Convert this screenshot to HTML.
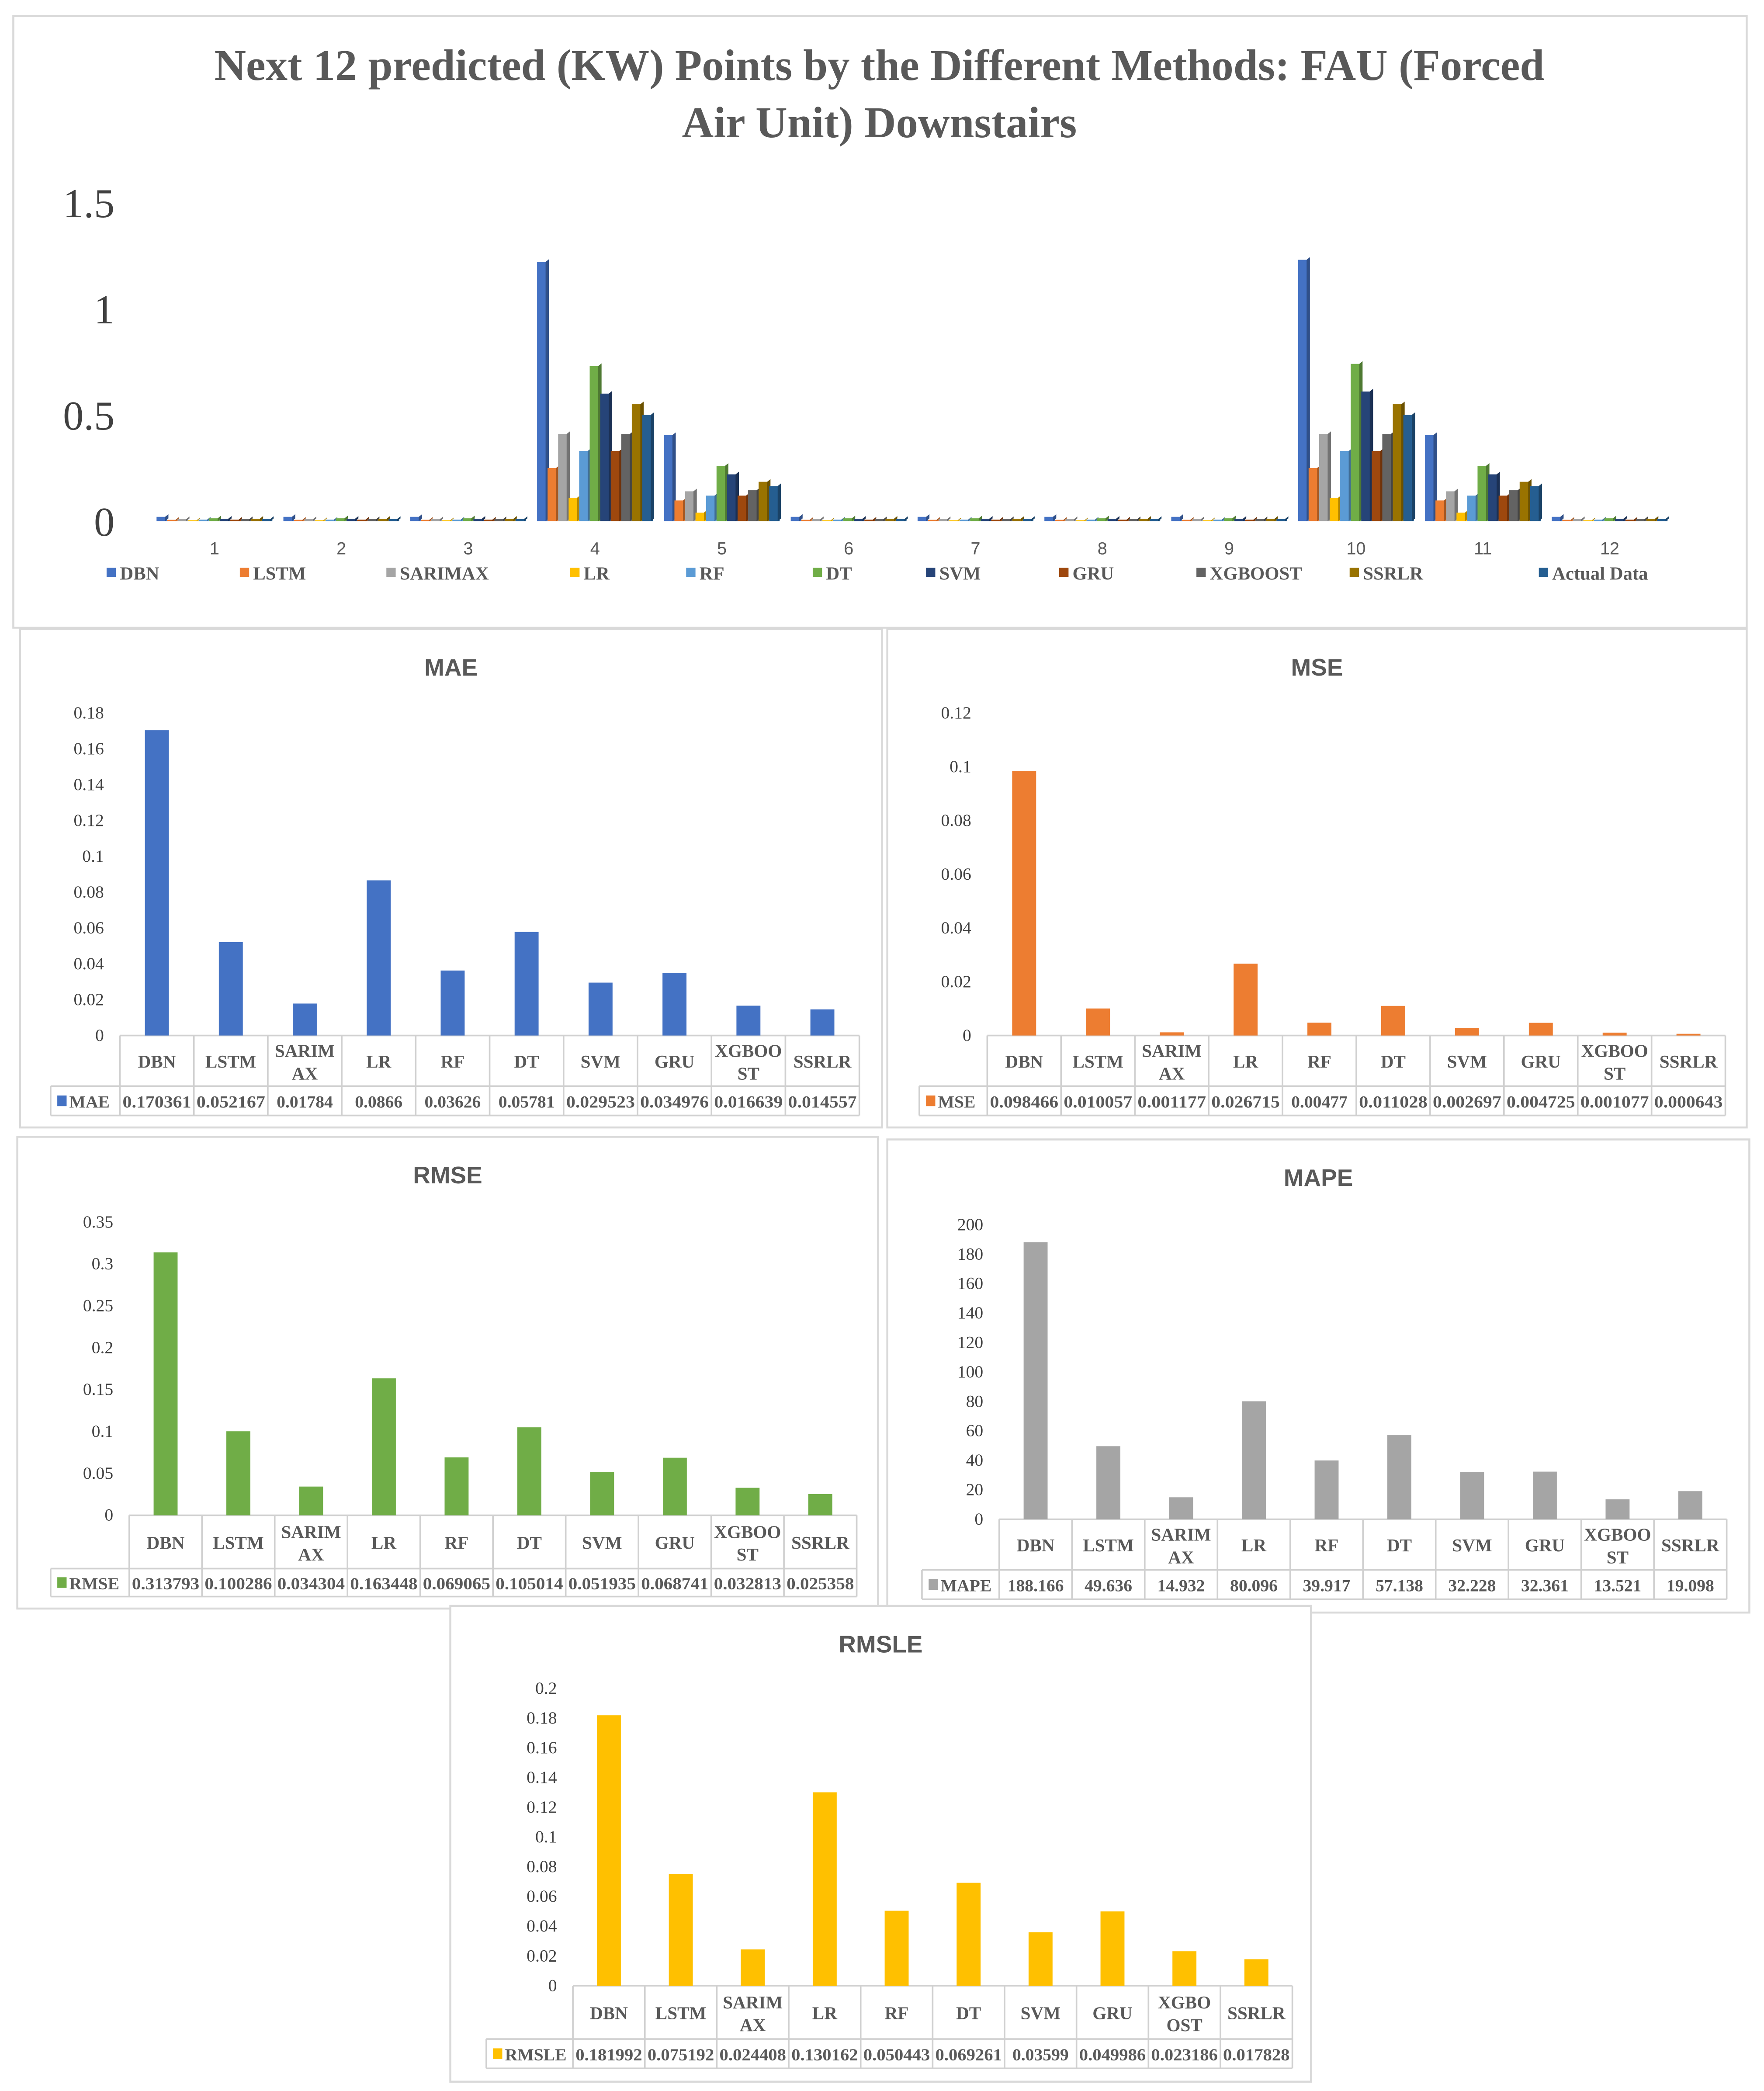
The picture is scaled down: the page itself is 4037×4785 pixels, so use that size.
<!DOCTYPE html>
<html><head><meta charset="utf-8"><style>
html,body{margin:0;padding:0;background:#fff;}
svg{display:block;}
text{font-family:"Liberation Serif",serif;}
.sans{font-family:"Liberation Sans",sans-serif;}
</style></head><body>
<svg id="root" width="4037" height="4785" viewBox="0 0 1324 1569" preserveAspectRatio="none" xmlns="http://www.w3.org/2000/svg"></svg>
<script>
// ---------- top chart data ----------
const points = ["1","2","3","4","5","6","7","8","9","10","11","12"];
const methods = ["DBN","LSTM","SARIMAX","LR","RF","DT","SVM","GRU","XGBOOST","SSRLR","Actual Data"];
const topTicks = [0, 0.5, 1, 1.5];
const sDBN     = [0.02,0.02,0.02,1.22,0.405,0.02,0.02,0.02,0.02,1.23,0.405,0.02];
const sLSTM    = [0.006,0.006,0.006,0.25,0.097,0.006,0.006,0.006,0.006,0.25,0.097,0.006];
const sSARIMAX = [0.009,0.009,0.009,0.41,0.14,0.009,0.009,0.009,0.009,0.41,0.14,0.009];
const sLR      = [0.004,0.004,0.004,0.11,0.04,0.004,0.004,0.004,0.004,0.11,0.04,0.004];
const sRF      = [0.007,0.007,0.007,0.33,0.12,0.007,0.007,0.007,0.007,0.33,0.12,0.007];
const sDT      = [0.013,0.013,0.013,0.73,0.26,0.013,0.013,0.013,0.013,0.74,0.26,0.013];
const sSVM     = [0.011,0.011,0.011,0.60,0.22,0.011,0.011,0.011,0.011,0.61,0.22,0.011];
const sGRU     = [0.007,0.007,0.007,0.33,0.12,0.007,0.007,0.007,0.007,0.33,0.12,0.007];
const sXGB     = [0.009,0.009,0.009,0.41,0.145,0.009,0.009,0.009,0.009,0.41,0.145,0.009];
const sSSRLR   = [0.011,0.011,0.011,0.55,0.185,0.011,0.011,0.011,0.011,0.55,0.185,0.011];
const sActual  = [0.01,0.01,0.01,0.50,0.165,0.01,0.01,0.01,0.01,0.50,0.165,0.01];

// ---------- metric data ----------
const metricCats = ["DBN","LSTM","SARIMAX","LR","RF","DT","SVM","GRU","XGBOOST","SSRLR"];
const maeVals   = [0.170361,0.052167,0.01784,0.0866,0.03626,0.05781,0.029523,0.034976,0.016639,0.014557];
const maeLabels = ["0.170361","0.052167","0.01784","0.0866","0.03626","0.05781","0.029523","0.034976","0.016639","0.014557"];
const maeTicks  = [0,0.02,0.04,0.06,0.08,0.1,0.12,0.14,0.16,0.18];
const mseVals   = [0.098466,0.010057,0.001177,0.026715,0.00477,0.011028,0.002697,0.004725,0.001077,0.000643];
const mseLabels = ["0.098466","0.010057","0.001177","0.026715","0.00477","0.011028","0.002697","0.004725","0.001077","0.000643"];
const mseTicks  = [0,0.02,0.04,0.06,0.08,0.1,0.12];
const rmseVals   = [0.313793,0.100286,0.034304,0.163448,0.069065,0.105014,0.051935,0.068741,0.032813,0.025358];
const rmseLabels = ["0.313793","0.100286","0.034304","0.163448","0.069065","0.105014","0.051935","0.068741","0.032813","0.025358"];
const rmseTicks  = [0,0.05,0.1,0.15,0.2,0.25,0.3,0.35];
const mapeVals   = [188.166,49.636,14.932,80.096,39.917,57.138,32.228,32.361,13.521,19.098];
const mapeLabels = ["188.166","49.636","14.932","80.096","39.917","57.138","32.228","32.361","13.521","19.098"];
const mapeTicks  = [0,20,40,60,80,100,120,140,160,180,200];
const rmsleVals   = [0.181992,0.075192,0.024408,0.130162,0.050443,0.069261,0.03599,0.049986,0.023186,0.017828];
const rmsleLabels = ["0.181992","0.075192","0.024408","0.130162","0.050443","0.069261","0.03599","0.049986","0.023186","0.017828"];
const rmsleTicks  = [0,0.02,0.04,0.06,0.08,0.1,0.12,0.14,0.16,0.18,0.2];

const NS="http://www.w3.org/2000/svg";
const root=document.getElementById('root');
function mk(tag,attrs,parent){const e=document.createElementNS(NS,tag);for(const k in attrs)e.setAttribute(k,attrs[k]);(parent||root).appendChild(e);return e;}

const colors=["#4472C4","#ED7D31","#A5A5A5","#FFC000","#5B9BD5","#70AD47","#264478","#9E480E","#636363","#997300","#255E91"];
function shade(hex,f){const n=parseInt(hex.slice(1),16);let r=(n>>16)&255,g=(n>>8)&255,b=n&255;r=Math.round(r*f);g=Math.round(g*f);b=Math.round(b*f);return "rgb("+r+","+g+","+b+")";}

// ---------- top panel ----------
const topG=mk('g',{});


const tb=mk('rect',{x:10,y:12,width:1301,height:459,fill:'#fff',stroke:'#d9d9d9','stroke-width':1.5},topG);


const t1=mk('text',{x:660,y:60,'text-anchor':'middle','font-size':33,'font-weight':'bold',fill:'#595959'},topG);
t1.textContent="Next 12 predicted (KW) Points by the Different Methods: FAU (Forced";


const t2=mk('text',{x:660,y:103,'text-anchor':'middle','font-size':33,'font-weight':'bold',fill:'#595959'},topG);
t2.textContent="Air Unit) Downstairs";


const tyBase=391, tyPer=159.4;
function ty(v){return tyBase-v*tyPer;}
topTicks.forEach(v=>{
  const t=mk('text',{x:86,y:ty(v)+11,'text-anchor':'end','font-size':31,fill:'#404040'},topG);
  t.textContent=String(v);
  
  
});
const series=[sDBN,sLSTM,sSARIMAX,sLR,sRF,sDT,sSVM,sGRU,sXGB,sSSRLR,sActual];
const cx0=161, cstep=95.2, bw=7.9;
points.forEach((p,i)=>{
  const c=cx0+i*cstep;
  const lab=mk('text',{x:c,y:416,'text-anchor':'middle','font-size':13,fill:'#595959',class:'sans'},topG);
  lab.textContent=p;
  
  
  series.forEach((s,j)=>{
    const x=c-43.5+j*bw, top=ty(s[i]), h=tyBase-top;
    const b=mk('rect',{x:x,y:top,width:bw,height:h,fill:colors[j]},topG);
    
    
    const sd=mk('polygon',{points:(x+bw-1.5)+','+top+' '+(x+bw+1)+','+(top-2)+' '+(x+bw+1)+','+(tyBase-2)+' '+(x+bw-1.5)+','+tyBase,fill:shade(colors[j],0.7)},topG);
    
    
  });
});
const legX=[80,180,290,428,515,610,695,795,898,1013,1155];
methods.forEach((m,j)=>{
  const g=mk('g',{},topG);
  
  
  mk('rect',{x:legX[j],y:426,width:7,height:7,fill:colors[j]},g);
  const t=mk('text',{x:legX[j]+10,y:435,'font-size':14,'font-weight':'bold',fill:'#595959'},g);
  t.textContent=m;
});

// ---------- metric panels ----------
function panel(name,title,frame,ax,vals,labels,ticks,color){
  const g=mk('g',{});
  
  
  mk('rect',{x:frame[0],y:frame[1],width:frame[2],height:frame[3],fill:'#fff',stroke:'#d9d9d9','stroke-width':1.5},g);
  const tt=mk('text',{x:frame[0]+frame[2]/2,y:frame[1]+35,'text-anchor':'middle','font-size':18,'font-weight':'bold',fill:'#595959',class:'sans'},g);
  tt.textContent=title;
  
  
  const [x0,x1,yTop,y0,hdrB,valB,legL]=ax;
  const tmax=ticks[ticks.length-1];
  const yS=v=>y0-(v/tmax)*(y0-yTop);
  ticks.forEach(v=>{
    const t=mk('text',{x:x0-12,y:yS(v)+4,'text-anchor':'end','font-size':13,fill:'#404040'},g);
    t.textContent=String(v);
    
    
  });
  const cw=(x1-x0)/metricCats.length;
  const st={stroke:'#d0d0d0','stroke-width':1.2,fill:'none'};
  mk('line',Object.assign({x1:x0,y1:y0,x2:x1,y2:y0},st),g);
  mk('line',Object.assign({x1:legL,y1:hdrB,x2:x1,y2:hdrB},st),g);
  mk('line',Object.assign({x1:legL,y1:valB,x2:x1,y2:valB},st),g);
  mk('line',Object.assign({x1:legL,y1:hdrB,x2:legL,y2:valB},st),g);
  for(let k=0;k<=metricCats.length;k++){
    mk('line',Object.assign({x1:x0+k*cw,y1:y0,x2:x0+k*cw,y2:valB},st),g);
  }
  metricCats.forEach((c,i)=>{
    const cx=x0+(i+0.5)*cw;
    const b=mk('rect',{x:cx-9,y:yS(vals[i]),width:18,height:y0-yS(vals[i]),fill:color},g);
    
    
    let lines=[c];
    if(c==="SARIMAX") lines=["SARIM","AX"];
    if(c==="XGBOOST") lines=(name==='rmsle')?["XGBO","OST"]:["XGBOO","ST"];
    const mid=(y0+hdrB)/2;
    lines.forEach((ln,k)=>{
      const t=mk('text',{x:cx,y:mid+5+(lines.length===2?(k===0?-8:9):0),'text-anchor':'middle','font-size':13.5,'font-weight':'bold',fill:'#595959'},g);
      t.textContent=ln;
      
      
    });
    const vt=mk('text',{x:cx,y:(hdrB+valB)/2+5,'text-anchor':'middle','font-size':13,'font-weight':'bold',fill:'#595959'},g);
    vt.textContent=labels[i];
    if(labels[i].length>=8){vt.setAttribute('textLength',cw-4);vt.setAttribute('lengthAdjust','spacingAndGlyphs');}
    
    
  });
  mk('rect',{x:legL+5,y:(hdrB+valB)/2-4,width:7,height:8,fill:color},g);
  const lt=mk('text',{x:legL+14,y:(hdrB+valB)/2+5,'font-size':13,'font-weight':'bold',fill:'#595959'},g);
  lt.textContent=title;
  
  
}
panel('mae','MAE',[15,472,647,374],[90,645,535,777,815,837,38],maeVals,maeLabels,maeTicks,'#4472C4');
panel('mse','MSE',[666,472,645,374],[741,1295,535,777,815,837,690],mseVals,mseLabels,mseTicks,'#ED7D31');
panel('rmse','RMSE',[13,853,646,354],[97,643,917,1137,1177,1198,38],rmseVals,rmseLabels,rmseTicks,'#70AD47');
panel('mape','MAPE',[666,855,647,355],[750,1296,919,1140,1178,1200,692],mapeVals,mapeLabels,mapeTicks,'#A5A5A5');
panel('rmsle','RMSLE',[338,1205,646,357],[430,970,1267,1490,1530,1552,365],rmsleVals,rmsleLabels,rmsleTicks,'#FFC000');
</script>
</body></html>
